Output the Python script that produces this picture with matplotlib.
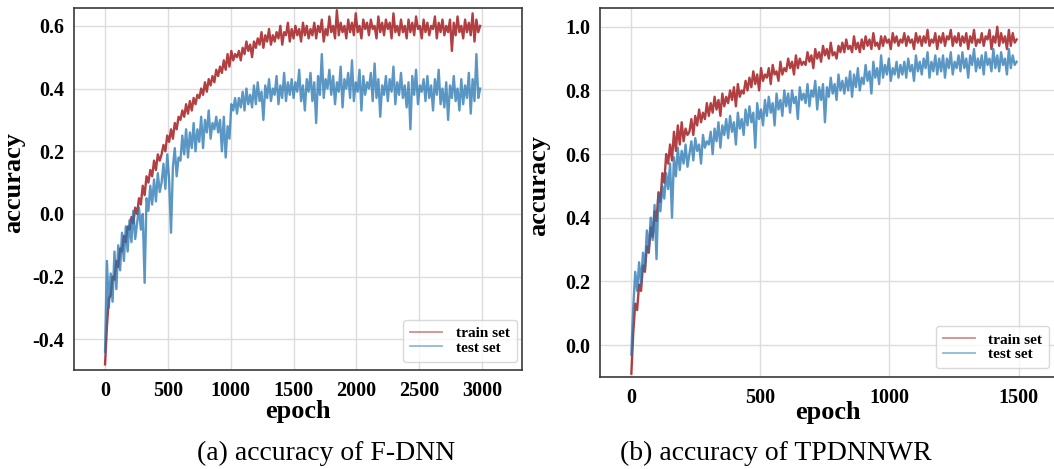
import numpy as np
import matplotlib
matplotlib.use("Agg")
import matplotlib.pyplot as plt

plt.rcParams['font.family'] = ['Liberation Serif', 'DejaVu Serif']

# ---------------- data ----------------
# (a) F-DNN : one value every 15 epochs, epochs 0..2985
fdnn_step = 15
fdnn_train = [
    -0.48, -0.36, -0.27, -0.26, -0.20, -0.21, -0.15, -0.17, -0.11, -0.12,
    -0.07, -0.09, -0.04, -0.05, -0.01, -0.03, 0.02, 0.00, 0.05, 0.03,
    0.09, 0.06, 0.12, 0.10, 0.14, 0.12, 0.17, 0.14, 0.19, 0.17,
    0.19, 0.22, 0.20, 0.25, 0.23, 0.27, 0.24, 0.29, 0.27, 0.31,
    0.30, 0.33, 0.31, 0.35, 0.32, 0.36, 0.33, 0.37, 0.35, 0.38,
    0.37, 0.40, 0.38, 0.42, 0.39, 0.43, 0.41, 0.44, 0.42, 0.46,
    0.44, 0.47, 0.45, 0.49, 0.46, 0.51, 0.47, 0.52, 0.49, 0.51,
    0.50, 0.52, 0.49, 0.53, 0.51, 0.55, 0.52, 0.54, 0.50, 0.55,
    0.53, 0.56, 0.54, 0.58, 0.53, 0.57, 0.55, 0.59, 0.54, 0.57,
    0.55, 0.58, 0.56, 0.60, 0.54, 0.58, 0.57, 0.61, 0.55, 0.59,
    0.56, 0.60, 0.57, 0.59, 0.55, 0.61, 0.57, 0.60, 0.56, 0.59,
    0.57, 0.61, 0.56, 0.60, 0.58, 0.62, 0.55, 0.59, 0.57, 0.63,
    0.58, 0.60, 0.56, 0.65, 0.57, 0.61, 0.58, 0.60, 0.56, 0.62,
    0.58, 0.61, 0.57, 0.64, 0.58, 0.60, 0.56, 0.62, 0.59, 0.61,
    0.57, 0.62, 0.59, 0.60, 0.56, 0.63, 0.58, 0.61, 0.57, 0.62,
    0.59, 0.61, 0.56, 0.64, 0.58, 0.60, 0.57, 0.62, 0.58, 0.60,
    0.56, 0.62, 0.58, 0.61, 0.57, 0.63, 0.59, 0.60, 0.56, 0.62,
    0.58, 0.61, 0.57, 0.60, 0.59, 0.63, 0.56, 0.61, 0.58, 0.62,
    0.57, 0.60, 0.58, 0.62, 0.52, 0.61, 0.57, 0.63, 0.58, 0.60,
    0.56, 0.62, 0.58, 0.61, 0.57, 0.64, 0.55, 0.62, 0.58, 0.60,
]
fdnn_test = [
    -0.44, -0.15, -0.30, -0.19, -0.28, -0.12, -0.24, -0.10, -0.18, -0.06,
    -0.15, -0.04, -0.12, -0.02, -0.09, 0.01, -0.08, -0.03, 0.02, -0.05,
    0.00, -0.22, 0.05, 0.01, 0.09, 0.03, 0.11, 0.04, 0.13, 0.07,
    0.10, 0.16, 0.08, 0.19, 0.11, -0.06, 0.15, 0.21, 0.12, 0.18,
    0.17, 0.25, 0.19, 0.27, 0.18, 0.26, 0.21, 0.29, 0.20, 0.27,
    0.23, 0.31, 0.21, 0.30, 0.26, 0.33, 0.24, 0.29, 0.27, 0.31,
    0.26, 0.30, 0.20, 0.31, 0.18, 0.28, 0.24, 0.35, 0.33, 0.37,
    0.32, 0.37, 0.34, 0.39, 0.33, 0.40, 0.35, 0.38, 0.34, 0.41,
    0.35, 0.42, 0.36, 0.39, 0.30, 0.41, 0.37, 0.43, 0.36, 0.40,
    0.38, 0.44, 0.35, 0.41, 0.37, 0.45, 0.36, 0.42, 0.38, 0.43,
    0.37, 0.42, 0.39, 0.46, 0.36, 0.41, 0.33, 0.43, 0.39, 0.45,
    0.36, 0.42, 0.29, 0.44, 0.38, 0.51, 0.37, 0.43, 0.40, 0.46,
    0.38, 0.44, 0.35, 0.42, 0.39, 0.47, 0.34, 0.43, 0.40, 0.45,
    0.37, 0.49, 0.36, 0.42, 0.39, 0.46, 0.33, 0.44, 0.38, 0.42,
    0.40, 0.45, 0.36, 0.48, 0.37, 0.43, 0.31, 0.41, 0.38, 0.44,
    0.36, 0.43, 0.39, 0.47, 0.35, 0.42, 0.38, 0.45, 0.37, 0.41,
    0.34, 0.42, 0.27, 0.44, 0.38, 0.46, 0.35, 0.41, 0.39, 0.43,
    0.36, 0.44, 0.37, 0.41, 0.33, 0.43, 0.38, 0.46, 0.35, 0.40,
    0.34, 0.42, 0.30, 0.41, 0.37, 0.44, 0.36, 0.40, 0.33, 0.43,
    0.35, 0.41, 0.37, 0.45, 0.32, 0.43, 0.36, 0.51, 0.37, 0.40,
]

# (b) TPDNNWR : one value every 7.5 epochs, epochs 0..1492.5
tp_step = 7.5
tp_train = [
    -0.09, 0.04, 0.13, 0.11, 0.19, 0.17, 0.25, 0.23, 0.31, 0.29,
    0.37, 0.34, 0.42, 0.39, 0.48, 0.45, 0.54, 0.51, 0.60, 0.57,
    0.63, 0.58, 0.67, 0.61, 0.69, 0.63, 0.70, 0.64, 0.68, 0.66,
    0.67, 0.71, 0.66, 0.72, 0.69, 0.74, 0.70, 0.73, 0.71, 0.76,
    0.72, 0.76, 0.73, 0.78, 0.74, 0.77, 0.72, 0.79, 0.75, 0.78,
    0.76, 0.80, 0.77, 0.81, 0.75, 0.82, 0.78, 0.80, 0.79, 0.83,
    0.80, 0.84, 0.81, 0.86, 0.82, 0.85, 0.80, 0.87, 0.83, 0.85,
    0.84, 0.87, 0.82, 0.88, 0.85, 0.86, 0.83, 0.89, 0.85, 0.87,
    0.86, 0.90, 0.87, 0.89, 0.85, 0.91, 0.87, 0.90, 0.88, 0.89,
    0.88, 0.92, 0.89, 0.91, 0.87, 0.93, 0.90, 0.92, 0.89, 0.94,
    0.91, 0.93, 0.90, 0.95, 0.91, 0.92, 0.90, 0.94, 0.92, 0.95,
    0.92, 0.96, 0.93, 0.94, 0.92, 0.97, 0.93, 0.95, 0.92, 0.96,
    0.93, 0.97, 0.94, 0.96, 0.93, 0.98, 0.94, 0.95, 0.93, 0.97,
    0.94, 0.97, 0.95, 0.96, 0.93, 0.98, 0.95, 0.97, 0.94, 0.96,
    0.95, 0.98, 0.94, 0.97, 0.95, 0.96, 0.93, 0.98, 0.95, 0.97,
    0.94, 0.97, 0.95, 0.99, 0.94, 0.96, 0.95, 0.98, 0.93, 0.97,
    0.95, 0.98, 0.94, 0.97, 0.96, 0.99, 0.94, 0.97, 0.95, 0.98,
    0.94, 0.97, 0.95, 0.98, 0.93, 0.97, 0.95, 0.99, 0.94, 0.96,
    0.95, 0.98, 0.94, 0.97, 0.96, 0.99, 0.93, 0.97, 0.95, 1.00,
    0.94, 0.98, 0.95, 0.97, 0.93, 0.99, 0.94, 0.98, 0.95, 0.96,
]
tp_test = [
    -0.03, 0.12, 0.23, 0.17, 0.26, 0.19, 0.29, 0.24, 0.36, 0.30,
    0.40, 0.33, 0.44, 0.27, 0.47, 0.42, 0.50, 0.46, 0.54, 0.49,
    0.57, 0.40, 0.59, 0.53, 0.62, 0.55, 0.61, 0.57, 0.63, 0.56,
    0.60, 0.64, 0.58, 0.65, 0.61, 0.63, 0.57, 0.66, 0.62, 0.64,
    0.63, 0.67, 0.60, 0.68, 0.64, 0.70, 0.62, 0.69, 0.66, 0.71,
    0.65, 0.72, 0.67, 0.70, 0.63, 0.73, 0.68, 0.71, 0.66, 0.74,
    0.69, 0.75, 0.70, 0.73, 0.62, 0.76, 0.71, 0.74, 0.69, 0.77,
    0.72, 0.78, 0.73, 0.76, 0.69, 0.79, 0.74, 0.77, 0.72, 0.80,
    0.75, 0.79, 0.73, 0.80, 0.76, 0.78, 0.71, 0.81, 0.77, 0.79,
    0.76, 0.82, 0.75, 0.80, 0.78, 0.83, 0.74, 0.81, 0.77, 0.82,
    0.70, 0.81, 0.78, 0.84, 0.79, 0.82, 0.77, 0.85, 0.80, 0.83,
    0.79, 0.84, 0.80, 0.86, 0.78, 0.85, 0.81, 0.87, 0.80, 0.84,
    0.82, 0.88, 0.83, 0.86, 0.79, 0.89, 0.84, 0.87, 0.82, 0.91,
    0.84, 0.88, 0.85, 0.90, 0.83, 0.87, 0.85, 0.89, 0.84, 0.88,
    0.85, 0.89, 0.84, 0.90, 0.86, 0.88, 0.83, 0.91, 0.86, 0.89,
    0.85, 0.90, 0.87, 0.92, 0.84, 0.89, 0.86, 0.91, 0.85, 0.90,
    0.86, 0.91, 0.84, 0.90, 0.87, 0.92, 0.85, 0.89, 0.87, 0.91,
    0.86, 0.92, 0.87, 0.90, 0.84, 0.91, 0.88, 0.93, 0.86, 0.90,
    0.87, 0.91, 0.85, 0.92, 0.88, 0.90, 0.86, 0.93, 0.87, 0.91,
    0.86, 0.92, 0.88, 0.90, 0.85, 0.93, 0.87, 0.91, 0.88, 0.89,
]

fdnn_xticks = [0, 500, 1000, 1500, 2000, 2500, 3000]
fdnn_yticks = [-0.4, -0.2, 0.0, 0.2, 0.4, 0.6]
tp_xticks = [0, 500, 1000, 1500]
tp_yticks = [0.0, 0.2, 0.4, 0.6, 0.8, 1.0]
series_labels = ["train set", "test set"]
captions = ["(a) accuracy of F-DNN", "(b) accuracy of TPDNNWR"]

# ---------------- styling ----------------
TRAIN_C = '#a51d20'
TEST_C = '#2474b0'
W, H = 1054, 469
fig = plt.figure(figsize=(W / 100, H / 100), dpi=100)

def px_axes(x0, y0, x1, y1):
    return fig.add_axes([x0 / W, 1 - y1 / H, (x1 - x0) / W, (y1 - y0) / H])

ax1 = px_axes(74, 8, 522, 370)
ax2 = px_axes(599.7, 8.3, 1057, 376.7)

bold = dict(family=['Liberation Serif', 'DejaVu Serif'], weight='bold')

def style(ax, xticks, yticks, xlim, ylim, leg_anchor, xlab_y, ylab_x, ylab_y):
    ax.set_xlim(*xlim)
    ax.set_ylim(*ylim)
    ax.set_xticks(xticks)
    ax.set_yticks(yticks)
    ax.set_xticklabels([str(t) for t in xticks], fontsize=14.5, **bold)
    ax.set_yticklabels([f"{t:.1f}" for t in yticks], fontsize=14.5, **bold)
    ax.tick_params(length=0, pad=7)
    ax.tick_params(axis='x', pad=8)
    ax.grid(True, color='#dcdcdc', lw=1.0)
    ax.set_axisbelow(True)
    for s in ax.spines.values():
        s.set_color('#3a3a3a')
        s.set_linewidth(1.2)
    ax.set_xlabel('epoch', fontsize=19, **bold)
    ax.set_ylabel('accuracy', fontsize=19, **bold)
    ax.xaxis.set_label_coords(0.5, xlab_y)
    ax.yaxis.set_label_coords(ylab_x, ylab_y)
    leg = ax.legend(loc='lower right', bbox_to_anchor=leg_anchor, borderaxespad=0,
                    prop=dict(family='Liberation Serif', weight='bold', size=11),
                    handlelength=2.1, handletextpad=0.9, labelspacing=0.05,
                    borderpad=0.45, frameon=True, fancybox=True)
    leg.get_frame().set_edgecolor('#d0d0d0')
    leg.get_frame().set_linewidth(1.0)
    for h in leg.legend_handles:
        h.set_alpha(0.5)
        h.set_linewidth(1.3)

x1 = np.arange(len(fdnn_train)) * fdnn_step
ax1.plot(x1, fdnn_train, color=TRAIN_C, lw=1.7, alpha=0.85, label=series_labels[0])
ax1.plot(x1, fdnn_test, color=TEST_C, lw=1.7, alpha=0.75, label=series_labels[1])
style(ax1, fdnn_xticks, fdnn_yticks, (-247, 3318), (-0.498, 0.657),
      (0.989, 0.023), -0.083, -0.109, 0.518)

x2 = np.arange(len(tp_train)) * tp_step
ax2.plot(x2, tp_train, color=TRAIN_C, lw=1.7, alpha=0.85, label=series_labels[0])
ax2.plot(x2, tp_test, color=TEST_C, lw=1.7, alpha=0.75, label=series_labels[1])
style(ax2, tp_xticks, tp_yticks, (-122.6, 1649), (-0.0996, 1.058),
      (0.983, 0.024), -0.066, -0.109, 0.52)

fig.text(326 / W, 1 - 453 / H, captions[0], fontsize=20, ha='center', va='center',
         family=['Liberation Serif', 'DejaVu Serif'])
fig.text(775.5 / W, 1 - 453 / H, captions[1], fontsize=20, ha='center', va='center',
         family=['Liberation Serif', 'DejaVu Serif'])

fig.savefig('out.png', dpi=100)
